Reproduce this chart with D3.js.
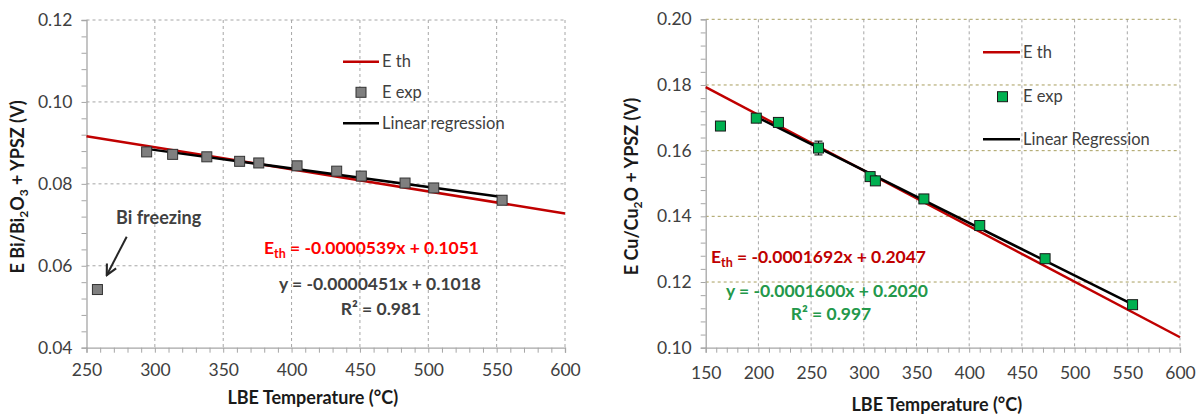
<!DOCTYPE html>
<html>
<head>
<meta charset="utf-8">
<script src="https://cdn.jsdelivr.net/npm/d3@7"></script>
<style>
  html, body { margin: 0; padding: 0; background: #ffffff; }
  svg { display: block; font-family: Lato, "Open Sans", sans-serif; }
</style>
</head>
<body>
<svg id="chart" width="1199" height="416"></svg>
<script>
// ---- Bi/Bi2O3 sensor ----
const biTemp = [258, 294, 313, 338, 362, 376, 404, 433, 451, 483, 504, 554];
const biE    = [0.0542, 0.0878, 0.0872, 0.0866, 0.0855, 0.0851, 0.0844, 0.0831, 0.0819, 0.0802, 0.0790, 0.0760];
const biTheory = { slope: -0.0000539, intercept: 0.1051 };
const biFit    = { slope: -0.0000451, intercept: 0.1018, r2: 0.981 };
const biFitRange = [294, 554];
const biXTicks = [250, 300, 350, 400, 450, 500, 550, 600];
const biYTicks = [0.04, 0.06, 0.08, 0.10, 0.12];

// ---- Cu/Cu2O sensor ----
const cuTemp = [164, 198, 219, 257, 306, 311, 357, 410, 472, 555];
const cuE    = [0.1675, 0.1699, 0.1686, 0.1608, 0.1521, 0.1508, 0.1453, 0.1372, 0.1271, 0.1131];
const cuErr  = [0, 0, 0, 0.0021, 0, 0, 0, 0, 0, 0];
const cuTheory = { slope: -0.0001692, intercept: 0.2047 };
const cuFit    = { slope: -0.0001600, intercept: 0.2020, r2: 0.997 };
const cuFitRange = [198, 555];
const cuXTicks = [150, 200, 250, 300, 350, 400, 450, 500, 550, 600];
const cuYTicks = [0.10, 0.12, 0.14, 0.16, 0.18, 0.20];

const svg = d3.select("#chart");

// plain hyphen as the minus sign
const locale = d3.formatLocale({ decimal: ".", thousands: ",", grouping: [3], currency: ["", ""], minus: "-" });
const fmt2 = locale.format(".2f");
const fmtSlope = locale.format(".7f");
const fmtInt = locale.format(".4f");
const fmtR2 = locale.format(".3f");

function panel(opt) {
  const g = svg.append("g");
  const x = d3.scaleLinear().domain(opt.xDomain).range([opt.left, opt.right]);
  const y = d3.scaleLinear().domain(opt.yDomain).range([opt.bottom, opt.top]);

  // dashed grid
  g.append("g").selectAll("line").data(opt.xTicks.slice(1)).join("line")
    .attr("x1", d => x(d)).attr("x2", d => x(d))
    .attr("y1", opt.top).attr("y2", opt.bottom)
    .attr("stroke", "#a6a6a6").attr("stroke-width", 1).attr("stroke-dasharray", "3,3");
  g.append("g").selectAll("line").data(opt.yTicks.slice(1)).join("line")
    .attr("x1", opt.left).attr("x2", opt.right)
    .attr("y1", d => y(d)).attr("y2", d => y(d))
    .attr("stroke", opt.hGridColor).attr("stroke-width", 1).attr("stroke-dasharray", "3,3");

  // axes with minor ticks
  const minorX = d3.range(opt.xDomain[0], opt.xDomain[1] + 0.001, 10);
  const minorY = d3.range(0, 26).map(i => opt.yDomain[0] + i * 0.004).filter(v => v <= opt.yDomain[1] + 1e-9);

  const xAxis = g.append("g").attr("transform", `translate(0,${opt.bottom})`)
    .call(d3.axisBottom(x).tickValues(minorX).tickSize(5).tickFormat(""));
  xAxis.select(".domain").attr("stroke", "#a6a6a6").attr("stroke-width", 1.3);
  xAxis.selectAll(".tick line").attr("stroke", "#a6a6a6");
  const xLab = g.append("g").attr("transform", `translate(0,${opt.bottom})`)
    .call(d3.axisBottom(x).tickValues(opt.xTicks).tickSize(0).tickPadding(opt.xTickPad).tickFormat(d3.format("d")));
  xLab.select(".domain").remove();
  xLab.selectAll("text").attr("font-size", 17.5).attr("fill", "#404040").attr("font-family", "Lato, sans-serif");

  const yAxis = g.append("g").attr("transform", `translate(${opt.left},0)`)
    .call(d3.axisLeft(y).tickValues(minorY).tickSize(5).tickFormat(""));
  yAxis.select(".domain").attr("stroke", "#a6a6a6").attr("stroke-width", 1.3);
  yAxis.selectAll(".tick line").attr("stroke", "#a6a6a6");
  const yLab = g.append("g").attr("transform", `translate(${opt.left},0)`)
    .call(d3.axisLeft(y).tickValues(opt.yTicks).tickSize(0).tickPadding(14).tickFormat(fmt2));
  yLab.select(".domain").remove();
  yLab.selectAll("text").attr("font-size", 17.5).attr("fill", "#404040").attr("font-family", "Lato, sans-serif");

  // theoretical line over the full temperature range
  const th = opt.theory;
  const thLine = opt.xDomain.map(t => [t, th.slope * t + th.intercept]);
  const line = d3.line().x(d => x(d[0])).y(d => y(d[1]));
  g.append("path").attr("d", line(thLine)).attr("fill", "none")
    .attr("stroke", "#c00000").attr("stroke-width", 2.5);

  // linear regression over the fitted points
  const fit = opt.fit;
  const fitLine = opt.fitRange.map(t => [t, fit.slope * t + fit.intercept]);
  g.append("path").attr("d", line(fitLine)).attr("fill", "none")
    .attr("stroke", "#000000").attr("stroke-width", 2.5);

  // error bars
  const pts = opt.temps.map((t, i) => ({ t, e: opt.values[i], err: opt.errs ? opt.errs[i] : 0 }));
  const eb = g.append("g").selectAll("g").data(pts.filter(p => p.err > 0)).join("g");
  eb.append("line").attr("x1", d => x(d.t)).attr("x2", d => x(d.t))
    .attr("y1", d => y(d.e - d.err)).attr("y2", d => y(d.e + d.err))
    .attr("stroke", "#000").attr("stroke-width", 1);
  eb.selectAll(".cap").data(d => [[d.t, d.e - d.err], [d.t, d.e + d.err]]).join("line")
    .attr("x1", d => x(d[0]) - 4).attr("x2", d => x(d[0]) + 4)
    .attr("y1", d => y(d[1])).attr("y2", d => y(d[1]))
    .attr("stroke", "#000").attr("stroke-width", 1);

  // measured points
  const s = 10;
  g.append("g").selectAll("rect").data(pts).join("rect")
    .attr("x", d => x(d.t) - s / 2).attr("y", d => y(d.e) - s / 2)
    .attr("width", s).attr("height", s)
    .attr("fill", opt.markerFill).attr("stroke", opt.markerStroke).attr("stroke-width", 1);

  // legend
  const lg = g.append("g").attr("font-size", 16.5).attr("fill", "#404040");
  const L = opt.legend;
  lg.append("line").attr("x1", L.x1).attr("x2", L.x2).attr("y1", L.y[0]).attr("y2", L.y[0])
    .attr("stroke", "#c00000").attr("stroke-width", 2.5);
  lg.append("rect").attr("x", (L.x1 + L.x2) / 2 - s / 2 + L.markerShift).attr("y", L.y[1] - s / 2)
    .attr("width", s).attr("height", s)
    .attr("fill", opt.markerFill).attr("stroke", opt.markerStroke);
  lg.append("line").attr("x1", L.x1).attr("x2", L.x2).attr("y1", L.y[2]).attr("y2", L.y[2])
    .attr("stroke", "#000").attr("stroke-width", 2.5);
  opt.legendLabels.forEach((txt, i) => {
    lg.append("text").attr("x", L.x2 + 3).attr("y", L.y[i]).attr("dy", "0.35em").text(txt);
  });

  // equations
  const eq = g.append("g").attr("font-weight", "bold").attr("font-size", 17.5);
  const E = opt.eq;
  const t1 = eq.append("text").attr("x", E.x1).attr("y", E.y1).attr("text-anchor", "end").attr("fill", opt.thTextColor);
  t1.append("tspan").text("E");
  t1.append("tspan").attr("font-size", 12.5).attr("dy", 4).text("th");
  t1.append("tspan").attr("dy", -4).text(` = ${fmtSlope(th.slope)}x + ${fmtInt(th.intercept)}`);
  eq.append("text").attr("x", E.x2).attr("y", E.y2).attr("text-anchor", "end").attr("fill", opt.fitTextColor)
    .text(`y = ${fmtSlope(fit.slope)}x + ${fmtInt(fit.intercept)}`);
  eq.append("text").attr("x", E.x3).attr("y", E.y3).attr("text-anchor", "middle").attr("fill", opt.fitTextColor)
    .text(`R² = ${fmtR2(fit.r2)}`);

  // axis titles
  g.append("text").attr("x", (opt.left + opt.right) / 2 + opt.xTitleShift).attr("y", opt.xTitleY)
    .attr("text-anchor", "middle").attr("font-weight", "bold").attr("font-size", 18).attr("fill", "#1a1a1a")
    .text("LBE Temperature (°C)");
  const yt = g.append("text")
    .attr("transform", `translate(${opt.yTitleX},${(opt.top + opt.bottom) / 2 + 3}) rotate(-90)`)
    .attr("text-anchor", "middle").attr("font-weight", "bold").attr("font-size", 18).attr("fill", "#1a1a1a");
  opt.yTitle.forEach(part => {
    const ts = yt.append("tspan").text(part.t);
    if (part.sub) ts.attr("font-size", 12).attr("dy", 4);
    if (part.up) ts.attr("dy", -4);
  });

  return { g, x, y };
}

// left: Bi/Bi2O3
const left = panel({
  xDomain: [250, 600], yDomain: [0.04, 0.12],
  left: 86.5, right: 565, top: 20, bottom: 347.7,
  xTicks: biXTicks, yTicks: biYTicks, xTickPad: 16,
  hGridColor: "#a6a6a6",
  temps: biTemp, values: biE, errs: null,
  theory: biTheory, fit: biFit, fitRange: biFitRange,
  markerFill: "#7f7f7f", markerStroke: "#333333",
  legend: { x1: 343, x2: 379, y: [61.7, 92.3, 123.3], markerShift: 0 },
  legendLabels: ["E th", "E exp", "Linear regression"],
  eq: { x1: 479, y1: 254, x2: 481, y2: 290, x3: 381, y3: 315 },
  thTextColor: "#ff0000", fitTextColor: "#404040",
  xTitleY: 404, xTitleShift: -13, yTitleX: 24,
  yTitle: [{ t: "E Bi/Bi" }, { t: "2", sub: true }, { t: "O", up: true }, { t: "3", sub: true }, { t: " + YPSZ (V)", up: true }]
});

// Bi freezing note with arrow
const defs = svg.append("defs");
defs.append("marker").attr("id", "arrowHead").attr("viewBox", "0 0 10 10")
  .attr("refX", 9).attr("refY", 5).attr("markerWidth", 6.5).attr("markerHeight", 6.5)
  .attr("orient", "auto")
  .append("path").attr("d", "M1,1 L9,5 L1,9").attr("fill", "none")
  .attr("stroke", "#262626").attr("stroke-width", 1.6);
left.g.append("line")
  .attr("x1", left.x(279.4)).attr("y1", left.y(0.0671))
  .attr("x2", left.x(264.8)).attr("y2", left.y(0.0577))
  .attr("stroke", "#262626").attr("stroke-width", 2).attr("marker-end", "url(#arrowHead)");
left.g.append("text").attr("x", 116).attr("y", 224)
  .attr("font-weight", "bold").attr("font-size", 18).attr("fill", "#404040").text("Bi freezing");

// right: Cu/Cu2O
panel({
  xDomain: [150, 600], yDomain: [0.10, 0.20],
  left: 705.7, right: 1180, top: 19.3, bottom: 347.7,
  xTicks: cuXTicks, yTicks: cuYTicks, xTickPad: 19,
  hGridColor: "#a89e5e",
  temps: cuTemp, values: cuE, errs: cuErr,
  theory: cuTheory, fit: cuFit, fitRange: cuFitRange,
  markerFill: "#00b050", markerStroke: "#1a1a1a",
  legend: { x1: 983, x2: 1020, y: [52.3, 96.7, 139.3], markerShift: 1 },
  legendLabels: ["E th", "E exp", "Linear Regression"],
  eq: { x1: 926, y1: 263, x2: 928, y2: 297, x3: 831, y3: 320 },
  thTextColor: "#c00000", fitTextColor: "#23984a",
  xTitleY: 411, xTitleShift: -6, yTitleX: 638,
  yTitle: [{ t: "E Cu/Cu" }, { t: "2", sub: true }, { t: "O + YPSZ (V)", up: true }]
});
</script>
</body>
</html>
